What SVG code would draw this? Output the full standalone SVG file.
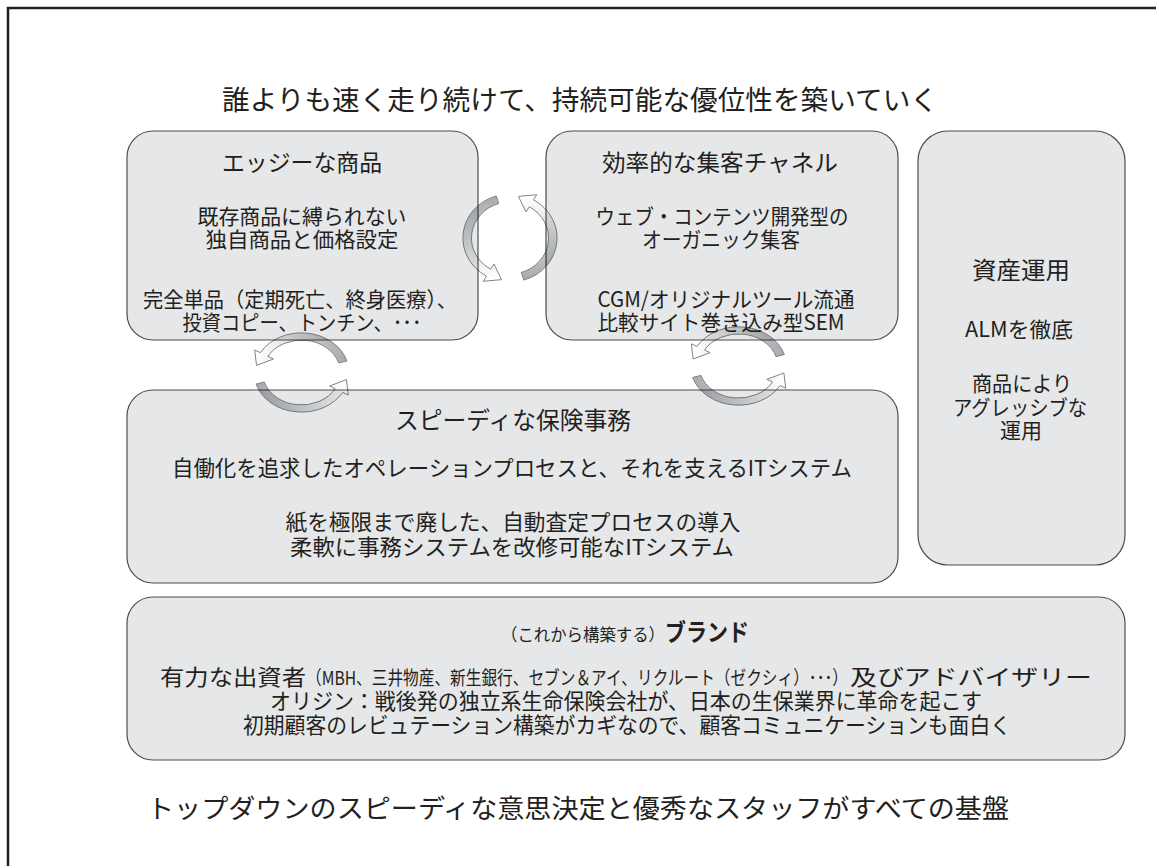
<svg xmlns="http://www.w3.org/2000/svg" xmlns:xlink="http://www.w3.org/1999/xlink" width="1156" height="866" viewBox="0 0 1156 866">
<style>
text{font-family:"Noto Sans CJK JP","Noto Sans",sans-serif;fill:#231f20;text-anchor:middle}
.l{text-anchor:start}
.box{fill:#e6e7e8;stroke:#4d4d4d;stroke-width:1.2}
.t{font-size:23px}
.b{font-size:21px}
.c{font-size:22px}
.arrow{fill:url(#ag);stroke:#808285;stroke-width:1;vector-effect:non-scaling-stroke}
</style>
<defs>
<linearGradient id="ag" gradientUnits="userSpaceOnUse" x1="42" y1="-12" x2="-40" y2="-12">
<stop offset="0" stop-color="#a7a9ac"/>
<stop offset="0.5" stop-color="#d1d3d4"/>
<stop offset="1" stop-color="#ffffff"/>
</linearGradient>
<path id="arc" class="arrow" d="M 42.08 -12.87 A 44 44 0 0 0 -38.11 -22 L -43.3 -25 L -41.64 -7.88 L -25.98 -15 L -31.18 -18 A 36 36 0 0 1 34.43 -10.53 Z"/>
</defs>
<rect x="0" y="0" width="1156" height="866" fill="#ffffff"/>
<rect x="8" y="8" width="1170" height="880" fill="none" stroke="#231f20" stroke-width="2.5"/>
<g id="title">
<text x="580" y="110" font-size="27.5" textLength="716" lengthAdjust="spacingAndGlyphs">誰よりも速く走り続けて、持続可能な優位性を築いていく</text>
</g>
<g id="node-product">
<rect class="box" x="127" y="131" width="351" height="209" rx="26"/>
<text class="t" x="302" y="171" textLength="160" lengthAdjust="spacingAndGlyphs">エッジーな商品</text>
<text class="b" x="302" y="224" textLength="209" lengthAdjust="spacingAndGlyphs">既存商品に縛られない</text>
<text class="b" x="302" y="247" textLength="193" lengthAdjust="spacingAndGlyphs">独自商品と価格設定</text>
<text class="b" x="300" y="307" textLength="314" lengthAdjust="spacingAndGlyphs">完全単品（定期死亡、終身医療）、</text>
<text class="b" x="302" y="330" textLength="239" lengthAdjust="spacingAndGlyphs">投資コピー、トンチン、･･･</text>
</g>
<g id="node-channel">
<rect class="box" x="546" y="131" width="352" height="209" rx="26"/>
<text class="t" x="720" y="171" textLength="236" lengthAdjust="spacingAndGlyphs">効率的な集客チャネル</text>
<text class="b" x="722" y="224" textLength="253" lengthAdjust="spacingAndGlyphs">ウェブ・コンテンツ開発型の</text>
<text class="b" x="721" y="247" textLength="158" lengthAdjust="spacingAndGlyphs">オーガニック集客</text>
<text class="b" x="726" y="307" textLength="257" lengthAdjust="spacingAndGlyphs">CGM/オリジナルツール流通</text>
<text class="b" x="721" y="330" textLength="247" lengthAdjust="spacingAndGlyphs">比較サイト巻き込み型SEM</text>
</g>
<g id="node-asset">
<rect class="box" x="918" y="131" width="207" height="434" rx="30"/>
<text x="1021" y="279" font-size="24" textLength="98" lengthAdjust="spacingAndGlyphs">資産運用</text>
<text class="b" x="1019" y="337" textLength="108" lengthAdjust="spacingAndGlyphs">ALMを徹底</text>
<text class="b" x="1022" y="391" textLength="100" lengthAdjust="spacingAndGlyphs">商品により</text>
<text class="b" x="1020" y="415" textLength="134" lengthAdjust="spacingAndGlyphs">アグレッシブな</text>
<text class="b" x="1021" y="438">運用</text>
</g>
<g id="node-operation">
<rect class="box" x="127" y="390" width="771" height="193" rx="26"/>
<text x="513" y="429" font-size="24" textLength="236" lengthAdjust="spacingAndGlyphs">スピーディな保険事務</text>
<text class="c" x="512" y="476" textLength="680" lengthAdjust="spacingAndGlyphs">自働化を追求したオペレーションプロセスと、それを支えるITシステム</text>
<text class="c" x="513" y="530" textLength="455" lengthAdjust="spacingAndGlyphs">紙を極限まで廃した、自動査定プロセスの導入</text>
<text class="c" x="512" y="555" textLength="444" lengthAdjust="spacingAndGlyphs">柔軟に事務システムを改修可能なITシステム</text>
</g>
<g id="node-brand">
<rect class="box" x="127" y="597" width="998" height="163" rx="26"/>
<text class="l" x="501" y="641" font-size="17" textLength="164" lengthAdjust="spacingAndGlyphs">（これから構築する）</text>
<text class="l" x="665" y="641" font-size="24" font-weight="bold" textLength="84" lengthAdjust="spacingAndGlyphs">ブランド</text>
<text class="l" x="160" y="685" font-size="22" textLength="146" lengthAdjust="spacingAndGlyphs">有力な出資者</text>
<text class="l" x="306" y="685" font-size="19" textLength="542" lengthAdjust="spacingAndGlyphs">（MBH、三井物産、新生銀行、セブン＆アイ、リクルート（ゼクシィ）･･･）</text>
<text class="l" x="850" y="685" font-size="22" textLength="242" lengthAdjust="spacingAndGlyphs">及びアドバイザリー</text>
<text class="c" x="626" y="709" textLength="712" lengthAdjust="spacingAndGlyphs">オリジン：戦後発の独立系生命保険会社が、日本の生保業界に革命を起こす</text>
<text class="c" x="627" y="733" textLength="768" lengthAdjust="spacingAndGlyphs">初期顧客のレビュテーション構築がカギなので、顧客コミュニケーションも面白く</text>
</g>
<g id="footer">
<text x="578" y="818" font-size="26" textLength="862" lengthAdjust="spacingAndGlyphs">トップダウンのスピーディな意思決定と優秀なスタッフがすべての基盤</text>
</g>
<g id="connectors" style="mix-blend-mode:multiply">
<use xlink:href="#arc" href="#arc" transform="translate(510,238) scale(1.07,1) rotate(-90)"/>
<use xlink:href="#arc" href="#arc" transform="translate(510,238) scale(1.07,1) rotate(90)"/>
<use xlink:href="#arc" href="#arc" transform="translate(301.5,372.5) scale(1.08,0.9)"/>
<use xlink:href="#arc" href="#arc" transform="translate(301.5,372.5) scale(1.08,0.9) rotate(180)"/>
<use xlink:href="#arc" href="#arc" transform="translate(738.5,366) scale(1.09,0.89)"/>
<use xlink:href="#arc" href="#arc" transform="translate(738.5,366) scale(1.09,0.89) rotate(180)"/>
</g>
</svg>
